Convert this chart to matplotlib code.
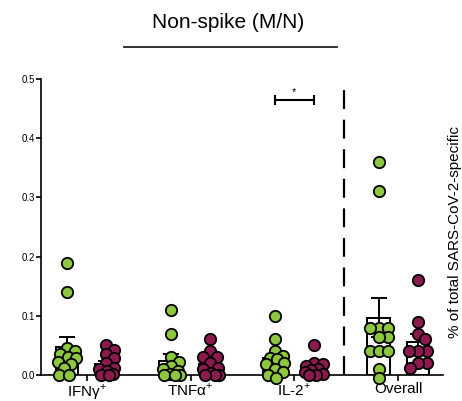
import matplotlib
matplotlib.use('Agg')
import matplotlib.pyplot as plt
from matplotlib.lines import Line2D
import numpy as np

plt.rcParams['font.family'] = ['Liberation Sans', 'DejaVu Sans']
plt.rcParams['mathtext.fontset'] = 'custom'
plt.rcParams['mathtext.rm'] = 'Liberation Sans'

# data
categories = ['IFNγ$^{+}$', 'TNFα$^{+}$', 'IL-2$^{+}$', 'Overall']
green_ifn = [0.19, 0.14, 0.045, 0.04, 0.035, 0.03, 0.028, 0.022, 0.018, 0.012, 0.0, 0.0]
green_tnf = [0.11, 0.07, 0.03, 0.022, 0.015, 0.01, 0.006, 0.002, 0.0, 0.0, 0.0]
green_il2 = [0.10, 0.06, 0.04, 0.032, 0.028, 0.027, 0.02, 0.018, 0.01, 0.005, 0.0, -0.005]
green_all = [0.36, 0.31, 0.08, 0.08, 0.08, 0.065, 0.065, 0.04, 0.04, 0.04, 0.01, -0.005]
red_ifn = [0.05, 0.043, 0.035, 0.028, 0.02, 0.012, 0.01, 0.006, 0.002, 0.0, 0.0]
red_tnf = [0.06, 0.04, 0.03, 0.03, 0.02, 0.012, 0.01, 0.003, 0.0, 0.0, 0.0]
red_il2 = [0.05, 0.02, 0.018, 0.015, 0.01, 0.008, 0.005, 0.002, 0.0, 0.0]
red_all = [0.16, 0.09, 0.07, 0.06, 0.04, 0.04, 0.04, 0.02, 0.02, 0.012]

green_groups = [green_ifn, green_tnf, green_il2, green_all]
red_groups = [red_ifn, red_tnf, red_il2, red_all]

GREEN = '#8DC63F'
RED = '#8C1A4E'


def swarm_offsets(ax, x0, vals, diam_px=8.5, max_px=9):
    """beeswarm kept within +-max_px of the centre, overlap allowed when crowded"""
    to_px = ax.transData.transform
    inv = ax.transData.inverted()
    order = np.argsort(vals)[::-1]
    placed = []
    xs = np.zeros(len(vals))
    cands = sorted(range(-max_px, max_px + 1), key=lambda c: (abs(c), -c))
    for i in order:
        px, py = to_px((x0, vals[i]))
        best, best_d = px, -1
        for c in cands:
            cx = px + c
            d = min([np.hypot(cx - qx, py - qy) for qx, qy in placed] or [1e9])
            if d >= diam_px:
                best = cx
                break
            if d > best_d:
                best, best_d = cx, d
        placed.append((best, py))
        xs[i] = inv.transform((best, py))[0]
    return xs


fig = plt.figure(figsize=(4.62, 4.01), dpi=100)
ax = fig.add_axes([41 / 462, 26 / 401, (443 - 41) / 462, (375 - 79) / 401])
ax.set_xlim(-0.44, 3.43)
ax.set_ylim(0, 0.5)

off = 0.19
bw = 0.22
for i in range(len(categories)):
    for vals, dx, col in ((green_groups[i], -off, GREEN), (red_groups[i], off, RED)):
        v = np.array(vals)
        m = v.mean()
        sem = v.std(ddof=1) / np.sqrt(len(v))
        xc = i + dx
        ax.bar(xc, m, width=bw, facecolor='white', edgecolor='black', linewidth=1.4, zorder=1)
        ax.errorbar(xc, m, yerr=sem, fmt='none', ecolor='black', elinewidth=1.4,
                    capsize=6, capthick=1.4, zorder=2)
        xs = swarm_offsets(ax, xc, v)
        ax.plot(xs, v, 'o', ms=8.2, mfc=col, mec='black', mew=1.3,
                linestyle='none', zorder=3, clip_on=False)

# dashed separator before "Overall"
ax.plot([2.48, 2.48], [0, 0.49], color='black', lw=1.6, dashes=(8.5, 4.8), zorder=0)

# significance bracket for IL-2
y_b = 0.465
ax.plot([2 - off, 2 + off], [y_b, y_b], color='black', lw=1.5)
ax.plot([2 - off, 2 - off], [y_b - 0.007, y_b + 0.007], color='black', lw=1.5)
ax.plot([2 + off, 2 + off], [y_b - 0.007, y_b + 0.007], color='black', lw=1.5)
ax.text(2, y_b + 0.004, '*', ha='center', va='bottom', fontsize=8)

# axes styling
ax.spines['top'].set_visible(False)
ax.spines['right'].set_visible(False)
ax.spines['left'].set_linewidth(1.2)
ax.spines['bottom'].set_linewidth(1.2)
ax.set_yticks(np.arange(0, 0.51, 0.1))
ax.set_yticklabels(['0.0', '0.1', '0.2', '0.3', '0.4', '0.5'], fontsize=7)
ax.set_xticks(range(len(categories)))
ax.set_xticklabels(categories, fontsize=11)
ax.tick_params(axis='y', length=3.5, width=1.2, pad=1)
ax.tick_params(axis='x', length=4, width=1.2, pad=1)

# title with underline
fig.text(228 / 462, 1 - 22 / 401, 'Non-spike (M/N)', fontsize=15, ha='center', va='center')
fig.add_artist(Line2D([124 / 462, 337 / 462], [1 - 47 / 401, 1 - 47 / 401],
                      transform=fig.transFigure, color='#222222', lw=1.3))

# right side label
fig.text(455 / 462, 1 - 232 / 401, '% of total SARS-CoV-2-specific', rotation=90,
         fontsize=11, ha='center', va='center')

fig.savefig('out.png', dpi=100, facecolor='white')
